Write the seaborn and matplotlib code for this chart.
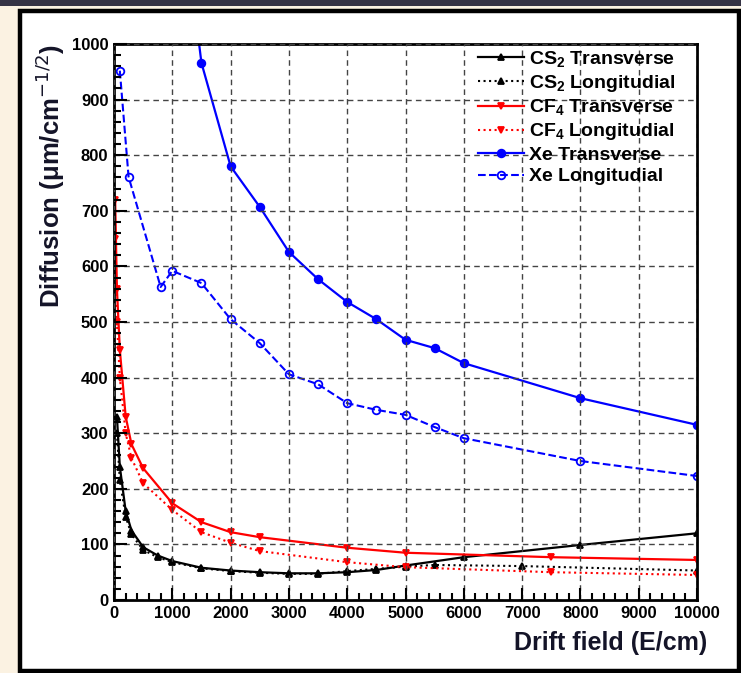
import numpy as np
import pandas as pd
import matplotlib
matplotlib.use("Agg")
import matplotlib.pyplot as plt
from matplotlib.patches import Rectangle
from matplotlib.ticker import MultipleLocator
import seaborn as sns

# ---- data (drift field E/cm, diffusion um/cm^-1/2) ----
cs2_t_x = [50, 100, 200, 300, 500, 750, 1000, 1500, 2000, 2500, 3000, 3500, 4000, 4500, 5000, 6000, 8000, 10000]
cs2_t_y = [330, 240, 160, 125, 95, 80, 70, 58, 53, 50, 48, 48, 50, 54, 62, 77, 99, 120]

cs2_l_x = [50, 100, 200, 300, 500, 750, 1000, 1500, 2000, 2500, 3000, 3500, 4000, 4500, 5000, 5500, 7000, 10000]
cs2_l_y = [300, 215, 150, 118, 90, 77, 68, 57, 52, 49, 47, 47, 52, 56, 60, 63, 61, 53]

cf4_t_x = [20, 50, 100, 200, 300, 500, 1000, 1500, 2000, 2500, 4000, 5000, 7500, 10000]
cf4_t_y = [720, 560, 450, 330, 280, 237, 174, 140, 122, 113, 94, 85, 77, 72]

cf4_l_x = [20, 50, 100, 200, 300, 500, 1000, 1500, 2000, 2500, 4000, 5000, 7500, 10000]
cf4_l_y = [650, 500, 400, 300, 255, 210, 162, 122, 103, 88, 68, 59, 50, 45]

xe_t_x = [1000, 1500, 2000, 2500, 3000, 3500, 4000, 4500, 5000, 5500, 6000, 8000, 10000]
xe_t_y = [1390, 966, 780, 707, 626, 577, 536, 505, 468, 453, 426, 363, 315]

xe_l_x = [100, 250, 800, 1000, 1500, 2000, 2500, 3000, 3500, 4000, 4500, 5000, 5500, 6000, 8000, 10000]
xe_l_y = [952, 761, 563, 592, 570, 505, 462, 406, 388, 354, 342, 333, 311, 291, 250, 223]

series = [
    (r"CS$_{\mathbf{2}}$ Transverse", cs2_t_x, cs2_t_y, "black", "-", "^", "black"),
    (r"CS$_{\mathbf{2}}$ Longitudial", cs2_l_x, cs2_l_y, "black", ":", "^", "black"),
    (r"CF$_{\mathbf{4}}$ Transverse", cf4_t_x, cf4_t_y, "red", "-", "v", "red"),
    (r"CF$_{\mathbf{4}}$ Longitudial", cf4_l_x, cf4_l_y, "red", ":", "v", "red"),
    ("Xe Transverse", xe_t_x, xe_t_y, "blue", "-", "o", "blue"),
    ("Xe Longitudial", xe_l_x, xe_l_y, "blue", "--", "o", "none"),
]

W, H = 741, 673
fig = plt.figure(figsize=(W / 100, H / 100), dpi=100)
fig.patch.set_facecolor("#fbf2e2")

# dark strip on top and the white framed panel
fig.add_artist(Rectangle((0, (H - 6) / H), 1, 6 / H, transform=fig.transFigure,
                         fc="#353345", ec="none", zorder=-10))
fig.add_artist(Rectangle((20 / W, 2 / H), 719 / W, (H - 13) / H, transform=fig.transFigure,
                         fc="white", ec="black", lw=3.2, zorder=-9))

ax = fig.add_axes([114 / W, (H - 600) / H, 583 / W, 556 / H])
ax.set_facecolor("white")

plt.rcParams["mathtext.fontset"] = "custom"
plt.rcParams["mathtext.rm"] = "Liberation Sans:bold"
plt.rcParams["mathtext.bf"] = "Liberation Sans:bold"
plt.rcParams["mathtext.it"] = "Liberation Sans:italic"

for label, xs, ys, col, ls, mk, mfc in series:
    df = pd.DataFrame({"x": xs, "y": ys})
    lw = 1.6 if ls == "-" else 1.5
    sns.lineplot(data=df, x="x", y="y", ax=ax, color=col, linestyle=ls, linewidth=lw,
                 marker=mk, markersize=5.5 if mk == "o" else 4.5,
                 markerfacecolor=mfc, markeredgecolor=col, markeredgewidth=1.3,
                 label=label, sort=False, estimator=None)

ax.set_xlim(0, 10000)
ax.set_ylim(0, 1000)
ax.xaxis.set_major_locator(MultipleLocator(1000))
ax.xaxis.set_minor_locator(MultipleLocator(200))
ax.yaxis.set_major_locator(MultipleLocator(100))
ax.yaxis.set_minor_locator(MultipleLocator(20))
ax.tick_params(which="both", direction="in", top=False, right=False, width=1.5, colors="black")
ax.tick_params(which="major", length=9, labelsize=12, pad=4)
ax.tick_params(which="minor", length=5)
for t in ax.get_xticklabels() + ax.get_yticklabels():
    t.set_fontweight("bold")
    t.set_family("Liberation Sans")
for s in ax.spines.values():
    s.set_linewidth(2)
    s.set_color("black")

ax.grid(True, which="major", color="#444444", linestyle=(0, (4, 3)), linewidth=1.0)
ax.set_axisbelow(False)

ax.set_xlabel("Drift field (E/cm)", fontsize=18, fontweight="bold", family="Liberation Sans",
              color="#141428", loc="right")
ax.xaxis.set_label_coords(1.017, -0.056)
ax.set_ylabel(r"Diffusion (μm/cm$^{\mathrm{-1/2}}$)", fontsize=18.5, fontweight="bold",
              family="Liberation Sans", color="#141428", loc="top")
ax.yaxis.set_label_coords(-0.08, 1.0)

leg = ax.legend(loc="upper left", bbox_to_anchor=(0.594, 1.023), frameon=False,
                handlelength=2.4, handletextpad=0.25, labelspacing=0.2,
                prop={"family": "Liberation Sans", "weight": "bold", "size": 14})

fig.savefig("out.png", dpi=100, facecolor=fig.get_facecolor())
